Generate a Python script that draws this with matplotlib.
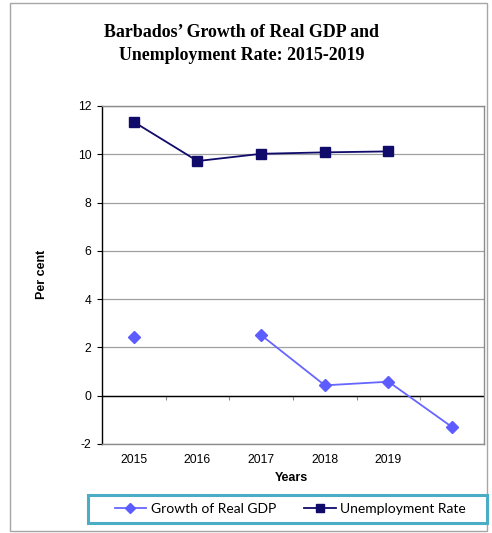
import matplotlib
matplotlib.use("Agg")
import matplotlib.pyplot as plt
from matplotlib.patches import Rectangle
import numpy as np

# ---- data ----
categories = ["2015", "2016", "2017", "2018", "2019", ""]
gdp_growth = [2.44, np.nan, 2.51, 0.43, 0.58, -1.30]
unemployment = [11.34, 9.72, 10.02, 10.08, 10.12, np.nan]
y_ticks = [-2, 0, 2, 4, 6, 8, 10, 12]

title = "Barbados\u2019 Growth of Real GDP and\nUnemployment Rate: 2015-2019"

W, H = 492, 533
fig = plt.figure(figsize=(W / 100, H / 100), dpi=100)

# outer border
fig.patches.append(Rectangle((10 / W, 1 - 531 / H), 477 / W, 528 / H,
                             transform=fig.transFigure, fill=False,
                             edgecolor="#a6a6a6", linewidth=1.0))

ax = fig.add_axes([102 / W, 1 - 444 / H, 382 / W, 338 / H])

x = np.arange(len(categories))
ax.plot(x, gdp_growth, color="#6666ff", marker="D", markersize=6,
        markerfacecolor="#5c5cff", markeredgecolor="#5c5cff", linewidth=1.3,
        label="Growth of Real GDP", zorder=3, clip_on=False)
ax.plot(x, unemployment, color="#100a6a", marker="s", markersize=7,
        markerfacecolor="#100a6a", markeredgecolor="#100a6a", linewidth=1.3,
        label="Unemployment Rate", zorder=3, clip_on=False)

ax.set_xlim(-0.5, len(categories) - 0.5)
ax.set_ylim(min(y_ticks), max(y_ticks))
ax.set_yticks(y_ticks)
ax.set_yticklabels([str(v) for v in y_ticks], fontfamily="Liberation Sans", fontsize=8.7)
ax.set_xticks(x)
ax.set_xticklabels(categories, fontfamily="Liberation Sans", fontsize=8.7)
ax.tick_params(axis="x", length=0, pad=7)
ax.tick_params(axis="y", length=3.5, width=0.8, pad=4, color="black", direction="out")

ax.grid(axis="y", color="#a0a0a0", linewidth=0.9)
ax.set_axisbelow(True)
ax.axhline(0, color="black", linewidth=1.0, zorder=2)

for s in ["top", "right", "bottom"]:
    ax.spines[s].set_color("#8c8c8c")
    ax.spines[s].set_linewidth(1.0)
ax.spines["left"].set_color("black")
ax.spines["left"].set_linewidth(1.0)

# category boundary ticks on zero line
sec = ax.secondary_xaxis((0 - min(y_ticks)) / (max(y_ticks) - min(y_ticks)))
sec.set_xticks(x[:-1] + 0.5)
sec.set_xticklabels([])
sec.tick_params(length=3, width=0.8, color="#8c8c8c", direction="out")
sec.spines["bottom"].set_visible(False)

fig.text(42 / W, 1 - 274 / H, "Per cent", rotation=90, ha="center", va="center",
         fontfamily="Liberation Sans", fontweight="bold", fontsize=9)
fig.text(291 / W, 1 - 478 / H, "Years", ha="center", va="center",
         fontfamily="Liberation Sans", fontweight="bold", fontsize=9)

fig.text(242 / W, 1 - 44 / H, title, ha="center", va="center",
         fontfamily="Liberation Serif", fontweight="bold", fontsize=12.9,
         linespacing=1.4)

# legend
fig.patches.append(Rectangle((88 / W, 1 - 523 / H), 399 / W, 28 / H,
                             transform=fig.transFigure, fill=False,
                             edgecolor="#4bacc6", linewidth=2.2))
handles, labels = ax.get_legend_handles_labels()
leg = fig.legend(handles, labels, loc="center", bbox_to_anchor=(290 / W, 1 - 509 / H),
                 ncol=2, frameon=False, prop={"family": "Lato", "size": 10},
                 handlelength=2.3, handletextpad=0.3, columnspacing=2.0,
                 markerscale=0.85)

fig.savefig("out.png", dpi=100)
